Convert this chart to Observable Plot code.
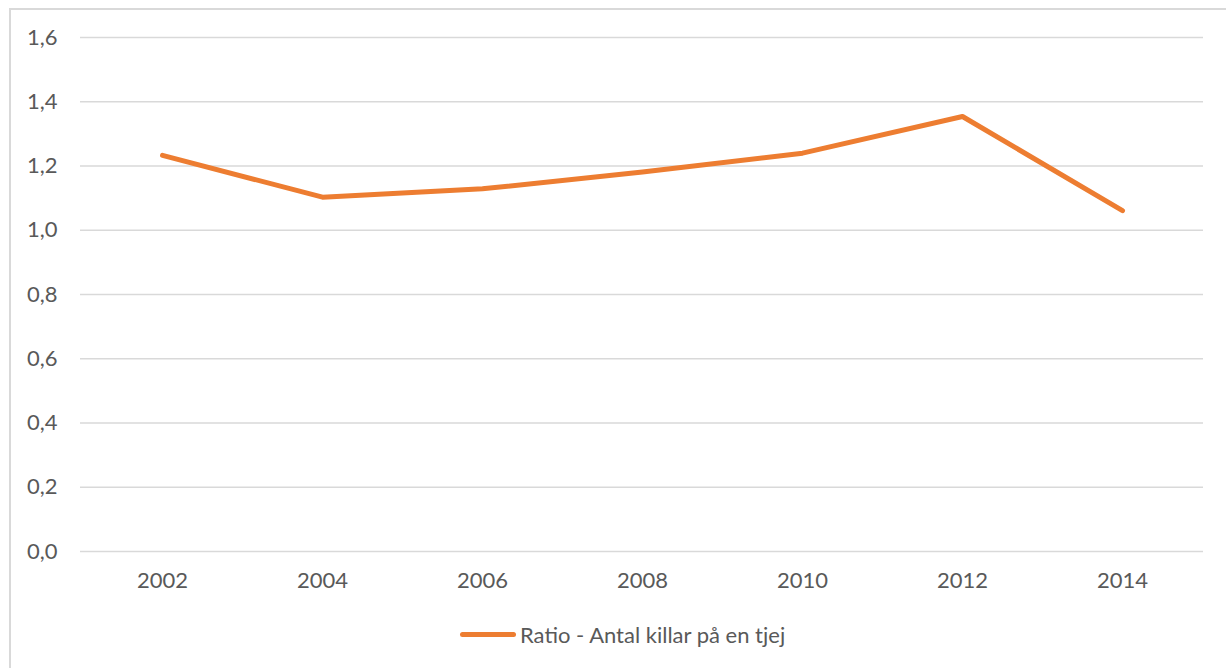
<!DOCTYPE html>
<html>
<head>
<meta charset="utf-8">
<script src="https://cdn.jsdelivr.net/npm/d3@7"></script>
<script src="https://cdn.jsdelivr.net/npm/@observablehq/plot@0.6"></script>
<style>
  html, body { margin: 0; padding: 0; background: #fff; }
  body { width: 1226px; height: 668px; overflow: hidden; position: relative; font-family: Lato, "Open Sans", sans-serif; }
  #frame { position: absolute; left: 9px; top: 8px; width: 1300px; height: 700px; border-left: 2px solid #d9d9d9; border-top: 2px solid #d9d9d9; box-sizing: border-box; }
  #chart { position: absolute; left: 0; top: 0; }
  #legend { position: absolute; left: 460px; top: 621px; display: flex; align-items: center; color: #595959; font-size: 22px; white-space: nowrap; }
  #legend .swatch { width: 56px; height: 5px; background: #ED7D31; border-radius: 3px; margin-right: 4px; }
</style>
</head>
<body>
<div id="frame"></div>
<div id="chart"></div>
<div id="legend"><span class="swatch"></span><span id="legendLabel"></span></div>
<script>
const years = ["2002", "2004", "2006", "2008", "2010", "2012", "2014"];
const ratio = [1.233, 1.103, 1.129, 1.181, 1.240, 1.354, 1.061];
const yTicks = [0, 0.2, 0.4, 0.6, 0.8, 1.0, 1.2, 1.4, 1.6];
const seriesName = "Ratio - Antal killar på en tjej";

const data = years.map((y, i) => ({year: y, value: ratio[i]}));
const fmt = d => d.toFixed(1).replace(".", ",");

const plot = Plot.plot({
  width: 1226,
  height: 600,
  marginTop: 37,
  marginBottom: 49,
  marginLeft: 80,
  marginRight: 23,
  style: { fontFamily: "Lato, 'Open Sans', sans-serif", fontSize: "22px", color: "#595959", background: "transparent" },
  x: { type: "point", domain: years, padding: 0.5, label: null },
  y: { domain: [0, 1.6], label: null },
  marks: [
    Plot.gridY(yTicks, { stroke: "#d9d9d9", strokeOpacity: 1, strokeWidth: 1.5 }),
    Plot.axisY(yTicks, { tickSize: 0, tickPadding: 23, tickFormat: fmt, fill: "#595959", label: null }),
    Plot.axisX(years, { tickSize: 0, tickPadding: 21, fill: "#595959", label: null }),
    Plot.line(data, { x: "year", y: "value", stroke: "#ED7D31", strokeWidth: 5, strokeLinecap: "round", strokeLinejoin: "round" })
  ]
});
document.getElementById("chart").appendChild(plot);
document.getElementById("legendLabel").textContent = seriesName;
</script>
</body>
</html>
